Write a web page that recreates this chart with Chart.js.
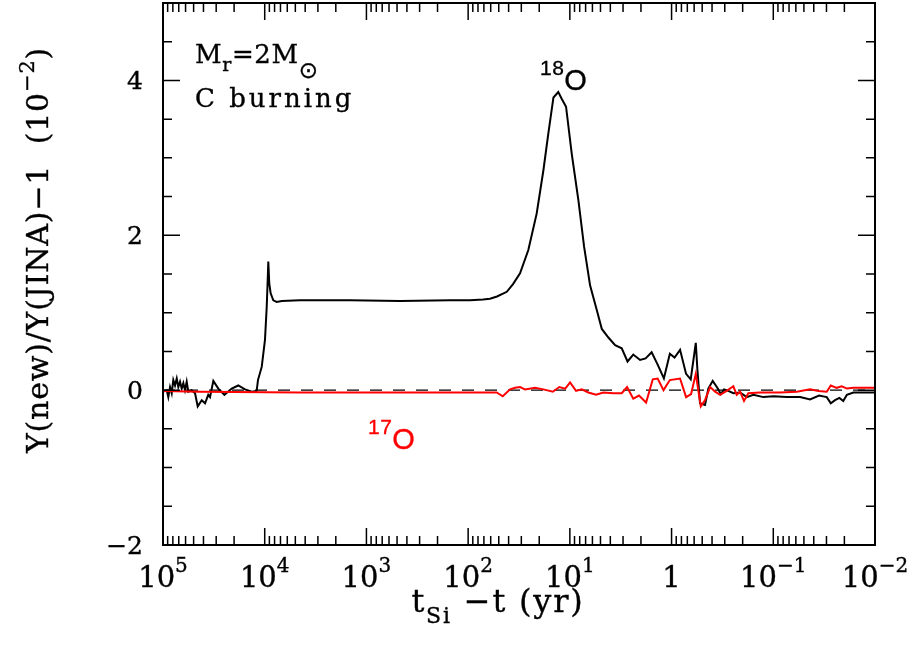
<!DOCTYPE html>
<html>
<head>
<meta charset="utf-8">
<script src="https://cdn.jsdelivr.net/npm/chart.js@4.4.1/dist/chart.umd.min.js"></script>
<style>
  html, body { margin: 0; padding: 0; background: #fff; }
  #wrap { width: 920px; height: 652px; }
</style>
</head>
<body>
<div id="wrap"><canvas id="chart" width="920" height="652"></canvas></div>
<script>
// Data (x = t_Si - t in yr, y = deviation in units of 1e-2)
const t18 = [99000, 92000, 88700, 85300, 82100, 79200, 76200, 73300, 70700, 68000,
  65500, 63100, 60800, 58500, 56400, 52200, 48400, 45600, 41600, 38600,
  35900, 34500, 32000, 28600, 24900, 21100, 18200, 15600, 13400, 12000,
  11650, 10700, 9940, 9560, 9350, 9220, 9020, 8740, 8230, 7620,
  6800, 4500, 1450, 468, 151, 95.8, 71.4, 61.0, 52.0, 41.7,
  36.2, 30.9, 25.6, 21.2, 18.2, 16.3, 14.5, 13.0, 12.0, 10.9,
  9.58, 8.24, 7.24, 6.32, 5.48, 4.85, 4.18, 3.59, 3.09, 2.71,
  2.38, 2.04, 1.80, 1.57, 1.37, 1.19, 1.04, 0.935, 0.825, 0.720,
  0.648, 0.578, 0.557, 0.525, 0.469, 0.435, 0.394, 0.355, 0.328, 0.305,
  0.277, 0.247, 0.212, 0.182, 0.157, 0.125, 0.0998, 0.0737, 0.0545, 0.0435,
  0.0355, 0.0298, 0.0272, 0.0247, 0.0224, 0.0205, 0.0189, 0.0163, 0.01];
const dev18 = [-0.02, 0.0, -0.09, 0.04, -0.04, 0.13, 0.06, 0.15, 0.04, 0.11,
  0.02, 0.09, 0.0, 0.11, -0.02, 0.0, -0.04, -0.21, -0.13, -0.17,
  -0.06, -0.09, 0.12, 0.02, -0.06, 0.02, 0.06, 0.01, -0.02, -0.01,
  0.13, 0.30, 0.65, 1.07, 1.42, 1.66, 1.38, 1.25, 1.16, 1.14,
  1.15, 1.16, 1.16, 1.15, 1.16, 1.16, 1.17, 1.18, 1.21, 1.27,
  1.37, 1.51, 1.81, 2.28, 2.84, 3.31, 3.78, 3.85, 3.76, 3.66,
  3.05, 2.45, 1.85, 1.35, 1.05, 0.79, 0.68, 0.58, 0.54, 0.37,
  0.46, 0.39, 0.41, 0.49, 0.33, 0.15, 0.47, 0.42, 0.52, 0.21,
  0.14, 0.61, 0.26, -0.17, -0.19, 0.02, 0.12, 0.03, -0.05, 0.01,
  -0.01, -0.04, -0.03, -0.09, -0.06, -0.09, -0.08, -0.09, -0.09, -0.12,
  -0.07, -0.09, -0.17, -0.13, -0.10, -0.14, -0.06, -0.03, -0.03];

const t17 = [1e5, 43300, 4500, 468, 52.4, 45.7, 38.7, 34.6, 30.9, 27.6,
  22.0, 18.2, 14.7, 12.7, 11.1, 9.95, 8.69, 7.64, 6.58, 5.52,
  4.69, 3.73, 3.09, 2.74, 2.38, 2.09, 1.78, 1.53, 1.37, 1.20,
  1.04, 0.825, 0.720, 0.643, 0.578, 0.516, 0.469, 0.418, 0.373, 0.333,
  0.287, 0.247, 0.229, 0.212, 0.194, 0.176, 0.135, 0.0858, 0.0588, 0.0435,
  0.0360, 0.0298, 0.0272, 0.0238, 0.0212, 0.0189, 0.0163, 0.01];
const dev17 = [-0.01, -0.02, -0.03, -0.03, -0.03, -0.08, 0.01, 0.03, 0.04, 0.01,
  0.03, 0.01, -0.02, 0.04, 0.02, 0.10, -0.01, 0.01, -0.03, -0.06,
  -0.03, -0.04, -0.04, 0.04, -0.11, -0.07, -0.16, 0.14, 0.15, 0.0,
  0.13, 0.15, -0.09, -0.05, 0.21, -0.21, -0.13, 0.04, -0.02, -0.06,
  -0.01, 0.05, -0.06, -0.02, -0.14, -0.04, -0.03, -0.03, -0.02, 0.01,
  -0.01, -0.02, 0.06, 0.03, 0.05, 0.02, 0.03, 0.03];

// Axis ticks
const xTickValues = [1e5, 1e4, 1e3, 1e2, 1e1, 1, 0.1, 0.01];
const xTickBase = ['10', '10', '10', '10', '10', '1', '10', '10'];
const xTickExp = ['5', '4', '3', '2', '1', '', '\u22121', '\u22122'];
const yTickValues = [-2, 0, 2, 4];
const yTickLabels = ['\u22122', '0', '2', '4'];
const xMin = 0.01, xMax = 1e5, yMin = -2, yMax = 5;

const SERIF = '"DejaVu Serif", "Liberation Serif", serif';
const SANS = '"Liberation Sans", Arial, sans-serif';

// draw a run of text pieces: [{t, size, dy, family}]
function drawRich(ctx, parts, x, y, align, spacing) {
  ctx.save();
  ctx.textBaseline = 'alphabetic';
  ctx.textAlign = 'left';
  ctx.strokeStyle = ctx.fillStyle;
  ctx.lineWidth = 0.35;
  if ('letterSpacing' in ctx) ctx.letterSpacing = (spacing || 0) + 'px';
  let total = 0;
  const widths = parts.map(p => {
    ctx.font = p.size + 'px ' + (p.family || SERIF);
    const w = ctx.measureText(p.t).width;
    total += w;
    return w;
  });
  let cx = x;
  if (align === 'center') cx = x - total / 2;
  else if (align === 'right') cx = x - total;
  parts.forEach((p, i) => {
    ctx.font = p.size + 'px ' + (p.family || SERIF);
    ctx.fillText(p.t, cx, y + (p.dy || 0));
    ctx.strokeText(p.t, cx, y + (p.dy || 0));
    cx += widths[i];
  });
  ctx.restore();
}

const framePlugin = {
  id: 'frame',
  afterDraw(chart) {
    const ctx = chart.ctx;
    const area = chart.chartArea;
    const xs = chart.scales.x, ys = chart.scales.y;
    ctx.save();
    ctx.strokeStyle = '#000';
    ctx.fillStyle = '#000';

    // frame
    ctx.lineWidth = 2;
    ctx.strokeRect(area.left, area.top, area.right - area.left, area.bottom - area.top);

    // x ticks (bottom and top)
    ctx.lineWidth = 1.5;
    ctx.beginPath();
    for (let d = -2; d <= 4; d++) {
      for (let m = 1; m <= 9; m++) {
        const v = m * Math.pow(10, d);
        const px = xs.getPixelForValue(v);
        const len = m === 1 ? 17 : 9;
        ctx.moveTo(px, area.bottom); ctx.lineTo(px, area.bottom - len);
        ctx.moveTo(px, area.top); ctx.lineTo(px, area.top + len);
      }
    }
    // y ticks (left and right)
    for (let v = yMin; v <= yMax; v += 0.5) {
      const py = ys.getPixelForValue(v);
      const len = (v % 2 === 0) ? 17 : 9;
      ctx.moveTo(area.left, py); ctx.lineTo(area.left + len, py);
      ctx.moveTo(area.right, py); ctx.lineTo(area.right - len, py);
    }
    ctx.stroke();

    // x tick labels
    xTickValues.forEach((v, i) => {
      const px = xs.getPixelForValue(v);
      const parts = [{t: xTickBase[i], size: 29}];
      if (xTickExp[i]) parts.push({t: xTickExp[i], size: 20, dy: -15});
      drawRich(ctx, parts, px, 587, 'center');
    });

    // y tick labels
    yTickValues.forEach((v, i) => {
      const py = ys.getPixelForValue(v);
      drawRich(ctx, [{t: yTickLabels[i], size: 25}], 143, py + 9, 'right');
    });

    // x axis title
    drawRich(ctx, [
      {t: 't', size: 32},
      {t: 'Si', size: 22, dy: 11},
      {t: ' \u2212t (yr)', size: 32}
    ], 498, 612, 'center', 1.8);

    // y axis title
    ctx.save();
    ctx.translate(48, 250);
    ctx.rotate(-Math.PI / 2);
    drawRich(ctx, [
      {t: 'Y(new)/Y(JINA)\u22121  (10', size: 30},
      {t: '\u22122', size: 21, dy: -14},
      {t: ')', size: 30}
    ], 0, 0, 'center', 0.8);
    ctx.restore();

    // annotations
    drawRich(ctx, [
      {t: 'M', size: 26},
      {t: 'r', size: 19, dy: 8},
      {t: '=2M', size: 26},
      {t: '\u2299', size: 23, dy: 15, family: '"DejaVu Sans", sans-serif'}
    ], 195, 63, 'left', 0.6);
    drawRich(ctx, [{t: 'C burning', size: 26}], 195, 107, 'left', 3);

    drawRich(ctx, [
      {t: '18', size: 21, family: SANS},
      {t: 'O', size: 29, dy: 15, family: SANS}
    ], 540, 75, 'left', 0.5);

    ctx.fillStyle = '#ff0000';
    drawRich(ctx, [
      {t: '17', size: 21, family: SANS},
      {t: 'O', size: 29, dy: 15, family: SANS}
    ], 368, 434, 'left', 0.5);

    ctx.restore();
  }
};

const ctx = document.getElementById('chart').getContext('2d');
new Chart(ctx, {
  type: 'line',
  data: {
    datasets: [
      {
        label: '17O',
        data: t17.map((t, i) => ({x: t, y: dev17[i]})),
        borderColor: '#ff0000',
        borderWidth: 2,
        pointRadius: 0,
        tension: 0,
        fill: false
      },
      {
        label: '18O',
        data: t18.map((t, i) => ({x: t, y: dev18[i]})),
        borderColor: '#000000',
        borderWidth: 2,
        pointRadius: 0,
        tension: 0,
        fill: false
      },
      {
        label: 'zero',
        data: [{x: xMax, y: 0}, {x: xMin, y: 0}],
        borderColor: '#000000',
        borderWidth: 1.3,
        borderDash: [12, 11],
        pointRadius: 0,
        fill: false
      }
    ]
  },
  options: {
    responsive: false,
    devicePixelRatio: 1,
    animation: false,
    layout: { padding: { left: 163, right: 45, top: 3, bottom: 107 } },
    plugins: {
      legend: { display: false },
      tooltip: { enabled: false }
    },
    scales: {
      x: {
        type: 'logarithmic',
        reverse: true,
        min: xMin,
        max: xMax,
        display: false
      },
      y: {
        type: 'linear',
        min: yMin,
        max: yMax,
        display: false
      }
    }
  },
  plugins: [framePlugin]
});
</script>
</body>
</html>
